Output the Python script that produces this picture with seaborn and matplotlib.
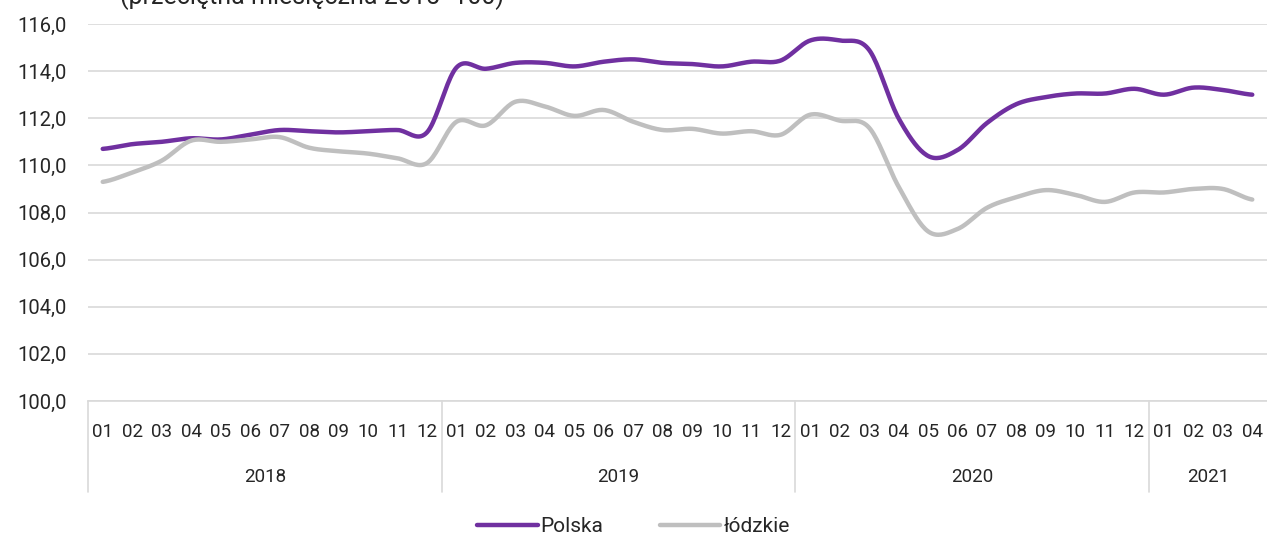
import numpy as np
import pandas as pd
import seaborn as sns
from matplotlib import pyplot as plt
from matplotlib import transforms

# Dane: indeks cen (przecietna miesieczna 2015=100), 2018-01 .. 2021-04
years = ["2018", "2019", "2020", "2021"]
months_per_year = [12, 12, 12, 4]
month_labels = ["01", "02", "03", "04", "05", "06", "07", "08", "09", "10", "11", "12"] * 3 + ["01", "02", "03", "04"]

polska = [110.7, 110.9, 111.0, 111.15, 111.1, 111.3, 111.5, 111.45, 111.4, 111.45, 111.5, 111.4,
          114.15, 114.1, 114.35, 114.35, 114.2, 114.4, 114.5, 114.35, 114.3, 114.2, 114.4, 114.45,
          115.3, 115.3, 114.9, 112.0, 110.4, 110.65, 111.8, 112.6, 112.9, 113.05, 113.05, 113.25,
          113.0, 113.3, 113.2, 113.0]
lodzkie = [109.3, 109.7, 110.2, 111.05, 111.0, 111.1, 111.2, 110.75, 110.6, 110.5, 110.3, 110.1,
           111.85, 111.7, 112.7, 112.5, 112.1, 112.35, 111.85, 111.5, 111.55, 111.35, 111.45, 111.3,
           112.15, 111.9, 111.6, 109.1, 107.2, 107.3, 108.2, 108.65, 108.95, 108.75, 108.45, 108.85,
           108.85, 109.0, 109.0, 108.55]

series_names = ["Polska", "łódzkie"]
colors = ["#7030a0", "#bfbfbf"]


# Wygladzona linia (jak w Excelu) - Catmull-Rom przez punkty danych
def smooth(values, steps=20):
    y = np.asarray(values, dtype=float)
    p = np.concatenate([[y[0]], y, [y[-1]]])
    xs, ys = [], []
    for i in range(len(y) - 1):
        p0, p1, p2, p3 = p[i], p[i + 1], p[i + 2], p[i + 3]
        c1 = p1 + (p2 - p0) / 6
        c2 = p2 - (p3 - p1) / 6
        t = np.linspace(0, 1, steps, endpoint=False)
        b = (1 - t) ** 3 * p1 + 3 * (1 - t) ** 2 * t * c1 + 3 * (1 - t) * t ** 2 * c2 + t ** 3 * p2
        xs.extend(i + t)
        ys.extend(b)
    xs.append(len(y) - 1)
    ys.append(y[-1])
    return np.array(xs), np.array(ys)


frames = []
for name, vals in zip(series_names, [polska, lodzkie]):
    sx, sy = smooth(vals)
    frames.append(pd.DataFrame({"x": sx, "wartosc": sy, "seria": name}))
df = pd.concat(frames, ignore_index=True)

sns.set_style("white")
plt.rcParams["font.family"] = ["Roboto", "DejaVu Sans"]
txt_color = "#262626"

fig = plt.figure(figsize=(12.67, 5.37), dpi=100)
ax = fig.add_axes([88 / 1267, 1 - 401 / 537, 1 - 88 / 1267, (401 - 24) / 537])

sns.lineplot(data=df, x="x", y="wartosc", hue="seria", palette=dict(zip(series_names, colors)),
             linewidth=3.2, ax=ax, legend=False, sort=False)

# Osie
n = len(month_labels)
ax.set_xlim(-0.5, n - 0.5)
ax.set_ylim(100, 116)
ax.set_yticks(np.arange(100, 117, 2))
ax.set_yticklabels([f"{v:.1f}".replace(".", ",") for v in np.arange(100, 117, 2)], fontsize=14.5, color=txt_color)
ax.set_xticks(range(n))
ax.set_xticklabels(month_labels, fontsize=13.5, color=txt_color)
ax.tick_params(axis="both", length=0)
ax.tick_params(axis="x", pad=16)
ax.tick_params(axis="y", pad=15)
ax.grid(axis="y", color="#d9d9d9", linewidth=1.2)
ax.set_xlabel("")
ax.set_ylabel("")
for s in ["top", "right", "left"]:
    ax.spines[s].set_visible(False)
ax.spines["bottom"].set_color("#d9d9d9")
ax.spines["bottom"].set_linewidth(1.2)

# Drugi poziom osi X: lata i separatory
trans = transforms.blended_transform_factory(ax.transData, ax.transAxes)
sep_bottom = -(492 - 401) / 377
start = 0
ax.plot([-0.5, -0.5], [0, sep_bottom], transform=trans, color="#d9d9d9", lw=1.2, clip_on=False)
for year, cnt in zip(years, months_per_year):
    mid = start + (cnt - 1) / 2
    ax.text(mid, -(477 - 401) / 377, year, transform=trans, ha="center", va="center",
            fontsize=13.5, color=txt_color)
    end = start + cnt - 0.5
    if end < n - 0.5:
        ax.plot([end, end], [0, sep_bottom], transform=trans, color="#d9d9d9", lw=1.2, clip_on=False)
    start += cnt

# Legenda
handles = [plt.Line2D([], [], color=c, lw=3.2) for c in colors]
fig.legend(handles, series_names, loc="center", bbox_to_anchor=(0.5, 1 - 527 / 537), ncol=2,
           frameon=False, fontsize=15, handlelength=2.9, handletextpad=0.15, columnspacing=2.7,
           labelcolor=txt_color)

# Podtytul (uciety u gory)
fig.text(120 / 1267, 1 - 4 / 537, "(przeciętna miesięczna 2015=100)", fontsize=18,
         color=txt_color, va="baseline", ha="left")

fig.savefig("out.png", dpi=100)
